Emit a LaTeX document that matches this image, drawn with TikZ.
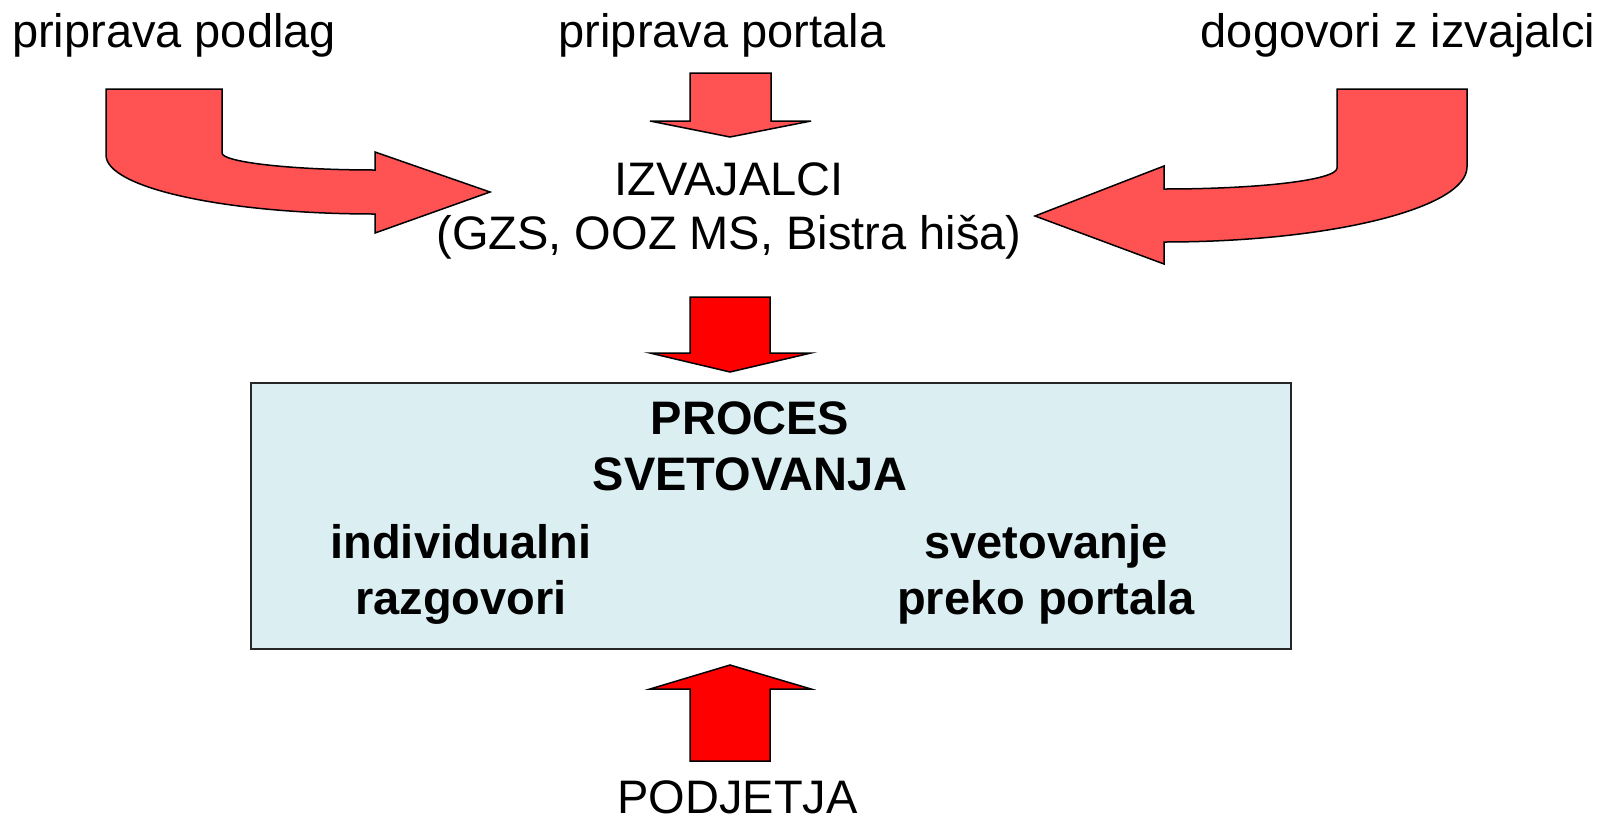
\documentclass[tikz,border=0pt]{standalone}
\usepackage{fontspec}
\setmainfont{Liberation Sans}
\definecolor{lightred}{RGB}{255,82,82}
\definecolor{boxblue}{RGB}{219,238,242}
\tikzset{
  lbl/.style={font=\fontsize{47}{54}\selectfont, inner sep=0pt},
  blbl/.style={font=\fontsize{47}{56}\selectfont\bfseries, inner sep=0pt, align=center},
  softarrow/.style={fill=lightred, draw=black, line width=1.5pt, line join=miter},
  hardarrow/.style={fill=red, draw=black, line width=1.5pt, line join=miter},
  procbox/.style={fill=boxblue, draw=black!85, line width=2pt, minimum width=1040pt, minimum height=266pt, inner sep=0pt}
}
\begin{document}
\begin{tikzpicture}[x=1pt, y=-1pt]
                \useasboundingbox (0,0) rectangle (1606,817);
                \node[procbox] (box) at (770.5,516) {};

                \node[lbl, anchor=base] (podlag) at (174,47) {priprava podlag};
                \node[lbl, anchor=base] (portal) at (722,47) {priprava portala};
                \node[lbl, anchor=base] (dogovor) at (1398,47) {dogovori z izvajalci};
                \node[lbl, align=center, anchor=base] (izvajalci) at (729,249) {IZVAJALCI\\(GZS, OOZ MS, Bistra hiša)};
                \node[blbl, anchor=base] (proces) at (750,490) {PROCES\\SVETOVANJA};
                \node[blbl, anchor=base] (indiv) at (461,614) {individualni\\razgovori};
                \node[blbl, anchor=base] (portalsv) at (1046,614) {svetovanje\\preko portala};
                \node[lbl, anchor=base] (podjetja) at (737.5,813) {PODJETJA};

                % curved arrows into the providers
                \draw[softarrow] (106,89) -- (222,89) -- (222,153) .. controls (222,162) and (290,170) .. (375,170) -- (375,152) -- (490,192) -- (375,233) -- (375,214) .. controls (226,214) and (106,188) .. (106,155) -- cycle;
                \draw[softarrow] (1467,89) -- (1337,89) -- (1337,168) .. controls (1337,180) and (1260,189) .. (1164,189) -- (1164,166) -- (1035,216) -- (1164,264) -- (1164,242) .. controls (1331,242) and (1467,208) .. (1467,167) -- cycle;
                % straight arrows
                \draw[softarrow] (690,73) -- (771,73) -- (771,121) -- (811,121) -- (730,137) -- (650,121) -- (690,121) -- cycle;
                \draw[hardarrow] (690,297) -- (770,297) -- (770,353) -- (811,353) -- (730,372) -- (650,353) -- (690,353) -- cycle;
                \draw[hardarrow] (690,761) -- (770,761) -- (770,689) -- (811,689) -- (730,665) -- (650,689) -- (690,689) -- cycle;
            \end{tikzpicture}
\end{document}
